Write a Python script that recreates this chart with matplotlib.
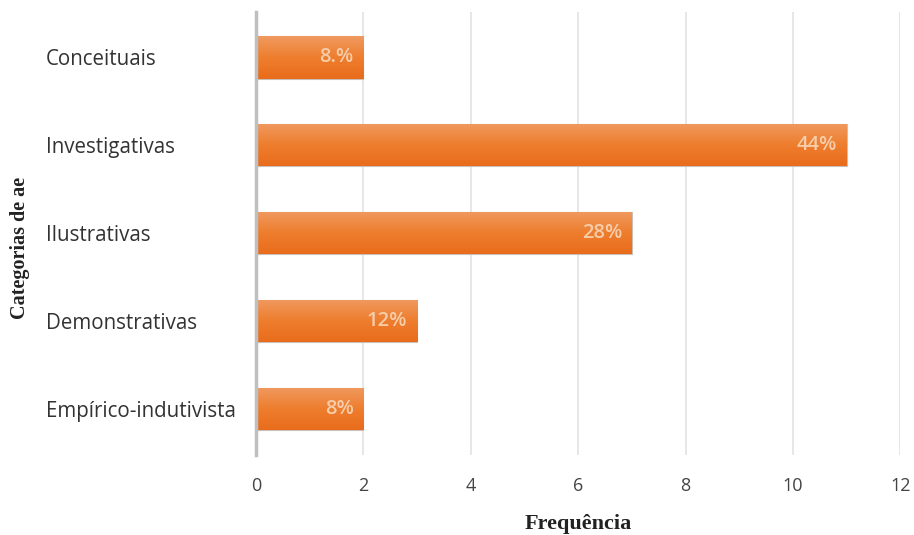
import numpy as np
import matplotlib.pyplot as plt
from matplotlib.colors import LinearSegmentedColormap

categorias = ["Conceituais", "Investigativas", "Ilustrativas", "Demonstrativas", "Empírico-indutivista"]
frequencias = [2, 11, 7, 3, 2]
rotulos = ["8.%", "44%", "28%", "12%", "8%"]

fig = plt.figure(figsize=(9.14, 5.35), dpi=100)
ax = fig.add_axes([0.280, 0.150, 0.705, 0.828])

y = np.arange(len(categorias))
bars = ax.barh(y, frequencias, height=0.48, color="#EC7A2A",
               edgecolor="#C8C0B8", linewidth=0.8, zorder=3)

# gradient fill, lighter at top
cmap = LinearSegmentedColormap.from_list("lar", ["#F09A60", "#EE7E2E", "#E86C1C"])
grad = np.linspace(0, 1, 100).reshape(-1, 1)
for b in bars:
    x0, y0 = b.get_x(), b.get_y()
    w, h = b.get_width(), b.get_height()
    im = ax.imshow(grad, cmap=cmap, aspect="auto", extent=[x0, x0 + w, y0 + h, y0],
                   origin="upper", zorder=3.5)
    im.set_clip_path(b)

for yi, v, lab in zip(y, frequencias, rotulos):
    ax.text(v - 0.18, yi, lab, ha="right", va="center", fontsize=14.5,
            fontweight="semibold", color="#F6CDAA", family="Open Sans", zorder=5)

ax.set_xlim(0, 12)
ax.set_ylim(4.52, -0.52)
ax.set_xticks(range(0, 13, 2))
ax.set_yticks(y)
ax.set_yticklabels(categorias, family="Open Sans", fontsize=14.8, color="#333333", ha="left")
ax.tick_params(axis="y", length=0, pad=151)
ax.tick_params(axis="x", length=0, pad=16, labelsize=13, labelcolor="#444444")
for t in ax.get_xticklabels():
    t.set_family("Open Sans")

ax.grid(axis="x", color="#E3E3E3", linewidth=1.2, zorder=0)
ax.set_axisbelow(True)
for s in ["top", "right", "bottom"]:
    ax.spines[s].set_visible(False)
ax.spines["left"].set_color("#BFBFBF")
ax.spines["left"].set_linewidth(2.5)
ax.spines["left"].set_zorder(6)

ax.set_xlabel("Frequência", family="Liberation Serif", fontweight="bold",
              fontsize=16, color="#222222", labelpad=14)
fig.text(0.022, 0.536, "Categorias de ae", rotation=90, ha="center", va="center",
         family="Liberation Serif", fontweight="bold", fontsize=14.5, color="#222222")

fig.savefig("out.png", dpi=100)
